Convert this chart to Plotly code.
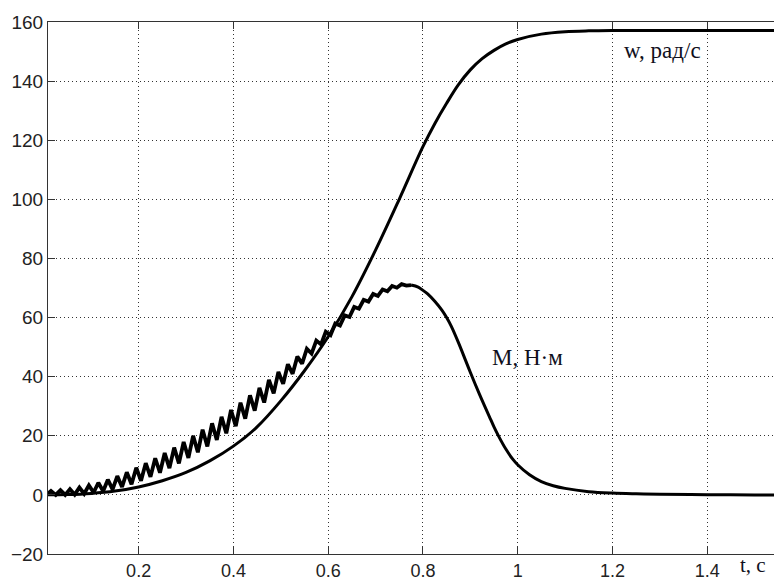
import plotly.graph_objects as go

# Motor start-up: speed w (rad/s) and electromagnetic torque M (N*m) vs time t (s)
w_t = [0.0, 0.05, 0.1, 0.15, 0.2, 0.25, 0.3, 0.35, 0.4, 0.45, 0.5, 0.55, 0.6, 0.65,
       0.7, 0.75, 0.8, 0.825, 0.85, 0.875, 0.9, 0.925, 0.95, 0.975, 1.0, 1.05, 1.1,
       1.15, 1.2, 1.3, 1.4, 1.5, 1.6]
w_val = [0.0, 0.1, 0.5, 1.3, 2.7, 4.8, 7.6, 11.5, 16.5, 23.0, 31.8, 42.0, 53.5, 67.0,
         82.8, 100.0, 117.8, 125.6, 132.5, 138.8, 143.8, 147.6, 150.4, 152.6, 154.1,
         155.9, 156.7, 157.0, 157.1, 157.1, 157.1, 157.1, 157.1]

# Torque with supply-frequency ripple during acceleration
m_osc_t = [0.0, 0.005, 0.015, 0.025, 0.035, 0.045, 0.055, 0.065, 0.075, 0.085, 0.095,
           0.105, 0.115, 0.125, 0.135, 0.145, 0.155, 0.165, 0.175, 0.185, 0.195,
           0.205, 0.215, 0.225, 0.235, 0.245, 0.255, 0.265, 0.275, 0.285, 0.295,
           0.305, 0.315, 0.325, 0.335, 0.345, 0.355, 0.365, 0.375, 0.385, 0.395,
           0.405, 0.415, 0.425, 0.435, 0.445, 0.455, 0.465, 0.475, 0.485, 0.495,
           0.505, 0.515, 0.525, 0.535, 0.545, 0.555, 0.565, 0.575, 0.585, 0.595,
           0.605, 0.615, 0.625, 0.635, 0.645, 0.655, 0.665, 0.675, 0.685, 0.695,
           0.705, 0.715, 0.725, 0.735, 0.745, 0.755, 0.765, 0.775]
m_osc_val = [0.0, 0.0, 1.3, 0.0, 1.6, 0.0, 1.9, 0.1, 2.5, 0.4, 3.2,
             0.8, 4.1, 1.25, 5.15, 1.85, 6.35, 2.7, 7.65, 3.6, 9.2,
             4.75, 10.75, 6.1, 12.4, 7.5, 14.15, 9.05, 16.0, 10.65, 17.9,
             12.5, 20.0, 14.4, 22.05, 16.4, 24.2, 18.6, 26.4, 20.85, 28.75,
             23.25, 31.2, 25.8, 33.7, 28.5, 36.2, 31.25, 38.9, 34.35, 41.6,
             37.55, 44.2, 40.95, 46.8, 44.4, 49.45, 47.8, 52.2, 50.9, 55.2,
             54.1, 58.0, 57.3, 60.75, 60.2, 63.6, 63.0, 66.0, 65.4, 68.0,
             67.3, 69.5, 68.9, 70.7, 70.1, 71.3, 70.8, 71.0]

# Torque after the peak, while the speed settles
m_tail_t = [0.775, 0.79, 0.80, 0.81, 0.825, 0.84, 0.85, 0.86, 0.875, 0.89, 0.90, 0.91,
            0.925, 0.94, 0.95, 0.96, 0.975, 0.99, 1.00, 1.025, 1.05, 1.075, 1.10, 1.15,
            1.20, 1.25, 1.30, 1.40, 1.50, 1.60]
m_tail_val = [71.0, 70.3, 69.2, 68.0, 65.5, 62.5, 60.0, 57.0, 51.5, 45.5, 41.5, 37.6,
              32.0, 26.6, 23.0, 19.8, 15.5, 12.0, 10.2, 6.8, 4.5, 3.1, 2.2, 1.1,
              0.6, 0.35, 0.2, 0.05, 0.0, 0.0]

assert len(m_osc_t) == len(m_osc_val) and len(m_tail_t) == len(m_tail_val)

x_ticks = [0.2, 0.4, 0.6, 0.8, 1.0, 1.2, 1.4]
x_tick_text = ["0.2", "0.4", "0.6", "0.8", "1", "1.2", "1.4"]
y_ticks = [-20, 0, 20, 40, 60, 80, 100, 120, 140, 160]

fig = go.Figure()
fig.add_trace(go.Scatter(x=w_t, y=w_val, mode="lines",
                         line=dict(color="black", width=3, shape="spline", smoothing=1.0)))
fig.add_trace(go.Scatter(x=m_osc_t, y=m_osc_val, mode="lines",
                         line=dict(color="black", width=3.8)))
fig.add_trace(go.Scatter(x=m_tail_t, y=m_tail_val, mode="lines",
                         line=dict(color="black", width=3, shape="spline", smoothing=1.0)))

serif = "Liberation Serif, Times New Roman, serif"
label_font = dict(family=serif, size=23, color="#10101c")
fig.add_annotation(x=1.22, y=150.4, text="w, рад/с", showarrow=False,
                   xanchor="left", yanchor="middle", font=label_font)
fig.add_annotation(x=0.941, y=46.5, text="M, Н·м", showarrow=False,
                   xanchor="left", yanchor="middle", font=label_font)
fig.add_annotation(x=1.465, xref="x", y=-0.021, yref="paper", text="t, c",
                   showarrow=False, xanchor="left", yanchor="middle",
                   font=dict(family=serif, size=21, color="#10101c"))

sans = "Liberation Sans, Arial, sans-serif"
axis_common = dict(showgrid=True, gridcolor="#333", gridwidth=1, griddash="1px,3px",
                   zeroline=False, showline=True, linecolor="#333", linewidth=1,
                   ticks="inside", ticklen=7, tickcolor="#333", tickwidth=1,
                   automargin=False)

fig.update_xaxes(range=[0.0087, 1.541], tickvals=x_ticks, ticktext=x_tick_text,
                 mirror="ticks",
                 tickfont=dict(family=sans, size=18, color="#222"), **axis_common)
fig.update_yaxes(range=[-20, 160], tickvals=y_ticks, mirror=False,
                 tickfont=dict(family=sans, size=19, color="#222"), **axis_common)

fig.update_layout(width=774, height=578, showlegend=False,
                  margin=dict(l=48, r=0, t=22, b=24),
                  paper_bgcolor="white", plot_bgcolor="white")

fig.write_html("out.html")
